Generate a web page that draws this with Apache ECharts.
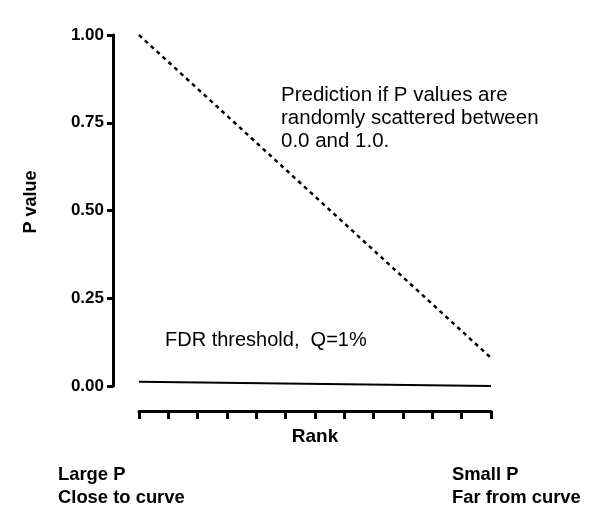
<!DOCTYPE html>
<html>
<head>
<meta charset="utf-8">
<script src="https://cdn.jsdelivr.net/npm/echarts@6/dist/echarts.min.js"></script>
<style>html,body{margin:0;padding:0;background:#fff}#c{width:600px;height:526px}</style>
</head>
<body>
<div id="c"></div>
<script>
// Data
const rankRange = [0, 12];               // x axis span (12 tick intervals)
const yTicks = [0, 0.25, 0.5, 0.75, 1.0];
const predictionLine = [[0, 1.0], [12, 0.08]];   // dashed: random P values
const fdrLine = [[0, 0.012], [12, 0.0]];         // solid: FDR threshold Q=1%
const xTitle = 'Rank';
const yTitle = 'P value';
const predictionText = 'Prediction if P values are\nrandomly scattered between\n0.0 and 1.0.';
const fdrText = 'FDR threshold,  Q=1%';
const leftNote = 'Large P\nClose to curve';
const rightNote = 'Small P\nFar from curve';

const FONT = '"Liberation Sans", Arial, sans-serif';
const chart = echarts.init(document.getElementById('c'), null, {renderer: 'canvas'});
chart.setOption({
  backgroundColor: '#fff',
  animation: false,
  grid: {left: 139, right: 109, top: 35, bottom: 140, containLabel: false},
  xAxis: {
    type: 'value', min: rankRange[0], max: rankRange[1], interval: 1,
    offset: 25,
    name: xTitle, nameLocation: 'middle', nameGap: 16,
    nameTextStyle: {fontFamily: FONT, fontWeight: 'bold', fontSize: 19, color: '#000'},
    axisLine: {show: true, onZero: false, lineStyle: {color: '#000', width: 3}},
    axisTick: {show: true, length: 8, lineStyle: {color: '#000', width: 3}},
    axisLabel: {show: false},
    splitLine: {show: false}
  },
  yAxis: {
    type: 'value', min: yTicks[0], max: yTicks[yTicks.length - 1], interval: 0.25,
    offset: 26,
    axisLine: {show: true, onZero: false, lineStyle: {color: '#000', width: 3}},
    axisTick: {show: true, length: 6, lineStyle: {color: '#000', width: 3}},
    axisLabel: {
      fontFamily: FONT, fontWeight: 'bold', fontSize: 17, color: '#000', margin: 9,
      formatter: v => v.toFixed(2)
    },
    splitLine: {show: false}
  },
  series: [
    {
      type: 'line', data: predictionLine, symbol: 'none', silent: true,
      lineStyle: {color: '#000', width: 2.5, type: [4, 4]}
    },
    {
      type: 'line', data: fdrLine, symbol: 'none', silent: true,
      lineStyle: {color: '#000', width: 2}
    }
  ],
  graphic: [
    {type: 'text', x: 31, y: 202, rotation: Math.PI / 2,
     style: {text: yTitle, font: 'bold 18px ' + FONT, fill: '#000', align: 'center', verticalAlign: 'middle'}},
    {type: 'text', left: 281, top: 84, style: {text: predictionText, font: '20.5px ' + FONT, lineHeight: 23, fill: '#000'}},
    {type: 'text', left: 165, top: 330, style: {text: fdrText, font: '20px ' + FONT, fill: '#000'}},
    {type: 'text', left: 58, top: 463, style: {text: leftNote, font: 'bold 18.4px ' + FONT, lineHeight: 23, fill: '#000'}},
    {type: 'text', left: 452, top: 463, style: {text: rightNote, font: 'bold 18.4px ' + FONT, lineHeight: 23, fill: '#000'}}
  ]
});
</script>
</body>
</html>
